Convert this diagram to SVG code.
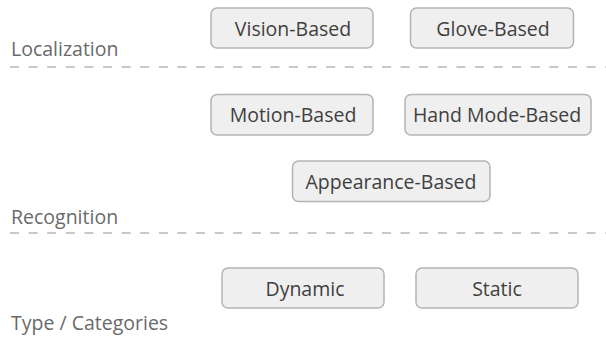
<svg xmlns="http://www.w3.org/2000/svg" width="606" height="339" viewBox="0 0 606 339">
  <style>
    .box { fill: #efefef; stroke: #b4b4b4; stroke-width: 1.5; }
    .lbl { font-family: "Open Sans", "Noto Sans", sans-serif; font-size: 19.5px; fill: #3f3f3f; text-anchor: middle; }
    .layer { font-family: "Open Sans", "Noto Sans", sans-serif; font-size: 19.5px; fill: #6a6a6a; }
    .sep { stroke: #c8c8c8; stroke-width: 2; stroke-dasharray: 9 9.6; fill: none; }
  </style>
  <rect width="606" height="339" fill="#ffffff"/>

  <!-- layer separators -->
  <g id="connectors">
    <line class="sep" x1="10" y1="67" x2="606" y2="67"/>
    <line class="sep" x1="10" y1="233" x2="606" y2="233"/>
  </g>

  <!-- layer titles -->
  <text class="layer" x="11" y="56">Localization</text>
  <text class="layer" x="11" y="224">Recognition</text>
  <text class="layer" x="11" y="330">Type / Categories</text>

  <g id="vision">
    <rect class="box" x="211" y="8" width="162" height="40" rx="6"/>
    <text class="lbl" x="293" y="36">Vision-Based</text>
  </g>
  <g id="glove">
    <rect class="box" x="410.5" y="8" width="163" height="40" rx="6"/>
    <text class="lbl" x="493" y="36">Glove-Based</text>
  </g>
  <g id="motion">
    <rect class="box" x="211" y="94.5" width="162" height="40.5" rx="6"/>
    <text class="lbl" x="293" y="122">Motion-Based</text>
  </g>
  <g id="handmode">
    <rect class="box" x="405" y="94.5" width="186" height="40.5" rx="6"/>
    <text class="lbl" x="497" y="122">Hand Mode-Based</text>
  </g>
  <g id="appearance">
    <rect class="box" x="292.5" y="161" width="197.5" height="40.5" rx="6"/>
    <text class="lbl" x="391" y="189">Appearance-Based</text>
  </g>
  <g id="dynamic">
    <rect class="box" x="222" y="268" width="162" height="40" rx="6"/>
    <text class="lbl" x="305" y="296">Dynamic</text>
  </g>
  <g id="static">
    <rect class="box" x="416" y="268" width="162" height="40" rx="6"/>
    <text class="lbl" x="497" y="296">Static</text>
  </g>
</svg>
